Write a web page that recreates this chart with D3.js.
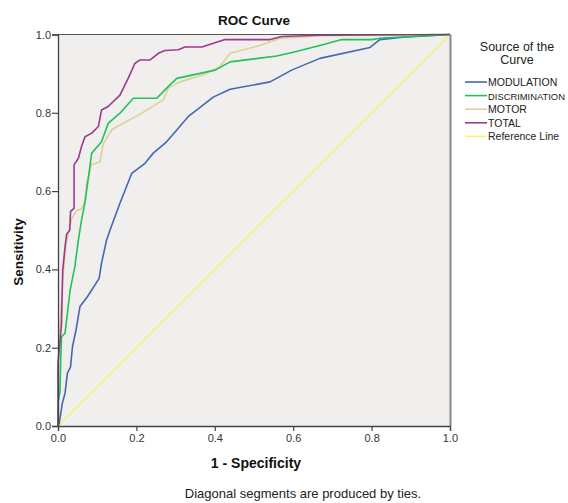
<!DOCTYPE html>
<html>
<head>
<meta charset="utf-8">
<script src="https://cdn.jsdelivr.net/npm/d3@7"></script>
<style>
  body { margin: 0; background: #fff; overflow: hidden; }
  text { font-family: "Liberation Sans", Arial, sans-serif; }
</style>
</head>
<body>
<script>
// series names, in legend order
var series_names = ["MODULATION", "DISCRIMINATION", "MOTOR", "TOTAL", "Reference Line"];
var series_colors = ["#4567b2", "#22c25a", "#dbd197", "#9b3a8c", "#f6f36c"];

// 1 - specificity / sensitivity pairs
var modulation_fpr = [0, 0.003, 0.011, 0.018, 0.024, 0.032, 0.037, 0.046, 0.056, 0.075, 0.105, 0.111, 0.124, 0.133, 0.158, 0.188, 0.222, 0.243, 0.277, 0.303, 0.332, 0.396, 0.439, 0.541, 0.596, 0.668, 0.796, 0.821, 0.880, 1.0];
var modulation_tpr = [0, 0.007, 0.058, 0.084, 0.135, 0.151, 0.203, 0.245, 0.305, 0.330, 0.377, 0.416, 0.475, 0.501, 0.569, 0.645, 0.671, 0.697, 0.726, 0.756, 0.790, 0.840, 0.860, 0.879, 0.909, 0.939, 0.967, 0.987, 0.993, 1.0];

var discrimination_fpr = [0, 0, 0.005, 0.007, 0.009, 0.018, 0.026, 0.031, 0.043, 0.052, 0.060, 0.069, 0.086, 0.111, 0.128, 0.158, 0.192, 0.252, 0.281, 0.303, 0.401, 0.439, 0.558, 0.605, 0.668, 0.724, 0.800, 0.826, 0.966, 1.0];
var discrimination_tpr = [0, 0.06, 0.088, 0.169, 0.228, 0.237, 0.305, 0.347, 0.407, 0.475, 0.526, 0.572, 0.697, 0.726, 0.773, 0.799, 0.837, 0.837, 0.867, 0.888, 0.909, 0.930, 0.945, 0.956, 0.972, 0.987, 0.987, 0.991, 0.998, 1.0];

var motor_fpr = [0, 0, 0.005, 0.007, 0.012, 0.018, 0.022, 0.026, 0.035, 0.048, 0.060, 0.069, 0.073, 0.086, 0.107, 0.116, 0.137, 0.158, 0.205, 0.269, 0.281, 0.311, 0.371, 0.413, 0.439, 0.515, 0.566, 0.668, 1.0];
var motor_tpr = [0, 0.15, 0.25, 0.288, 0.373, 0.440, 0.470, 0.490, 0.530, 0.550, 0.555, 0.575, 0.620, 0.667, 0.675, 0.722, 0.756, 0.769, 0.794, 0.833, 0.863, 0.879, 0.897, 0.918, 0.952, 0.972, 0.990, 0.997, 1.0];

var total_fpr = [0, 0, 0.007, 0.009, 0.012, 0.018, 0.022, 0.030, 0.032, 0.041, 0.041, 0.052, 0.060, 0.069, 0.086, 0.103, 0.111, 0.128, 0.158, 0.179, 0.196, 0.209, 0.235, 0.256, 0.273, 0.307, 0.324, 0.367, 0.426, 0.541, 0.571, 0.668, 1.0];
var total_tpr = [0, 0.16, 0.237, 0.262, 0.398, 0.458, 0.490, 0.500, 0.548, 0.556, 0.667, 0.684, 0.714, 0.739, 0.748, 0.765, 0.807, 0.816, 0.845, 0.888, 0.926, 0.935, 0.935, 0.952, 0.959, 0.961, 0.968, 0.968, 0.987, 0.987, 0.995, 0.998, 1.0];

var reference_fpr = [0, 1];
var reference_tpr = [0, 1];

var tick_values = [0, 0.2, 0.4, 0.6, 0.8, 1.0];

var width = 568, height = 503;
var plot = {left: 58, right: 450, top: 34.5, bottom: 426};

var svg = d3.select("body").append("svg").attr("width", width).attr("height", height);

var x = d3.scaleLinear().domain([0, 1]).range([plot.left, plot.right]);
var y = d3.scaleLinear().domain([0, 1]).range([plot.bottom, plot.top]);

// plot background
svg.append("rect")
    .attr("x", plot.left).attr("y", plot.top)
    .attr("width", plot.right - plot.left).attr("height", plot.bottom - plot.top)
    .style("fill", "#f0efed");

function pairs(xs, ys){
    return xs.map(function(v, i){ return [v, ys[i]]; });
}

var line = d3.line().x(function(d){ return x(d[0]); }).y(function(d){ return y(d[1]); });

var curves = [
    {name: "Reference Line", pts: pairs(reference_fpr, reference_tpr)},
    {name: "MODULATION", pts: pairs(modulation_fpr, modulation_tpr)},
    {name: "MOTOR", pts: pairs(motor_fpr, motor_tpr)},
    {name: "DISCRIMINATION", pts: pairs(discrimination_fpr, discrimination_tpr)},
    {name: "TOTAL", pts: pairs(total_fpr, total_tpr)}
];

svg.selectAll("path.curve")
    .data(curves)
    .enter()
    .append("path")
    .attr("class", "curve")
    .attr("d", function(d){ return line(d.pts); })
    .style("fill", "none")
    .style("stroke", function(d){ return series_colors[series_names.indexOf(d.name)]; })
    .style("stroke-width", function(d){ return d.name == "Reference Line" ? 1.4 : 1.6; })
    .style("stroke-linejoin", "round");

// frame on top and right
svg.append("line")
    .attr("x1", plot.left).attr("x2", plot.right)
    .attr("y1", plot.top).attr("y2", plot.top)
    .style("stroke", "#555").style("stroke-width", 1.2);
svg.append("line")
    .attr("x1", plot.right + 0.5).attr("x2", plot.right + 0.5)
    .attr("y1", plot.top).attr("y2", plot.bottom)
    .style("stroke", "#888").style("stroke-width", 2);

// axes
var xAxis = svg.append("g")
    .attr("transform", "translate(0," + plot.bottom + ")")
    .call(d3.axisBottom(x).tickValues(tick_values).tickFormat(d3.format(".1f")).tickSize(5).tickPadding(3));
var yAxis = svg.append("g")
    .attr("transform", "translate(" + plot.left + ",0)")
    .call(d3.axisLeft(y).tickValues(tick_values).tickFormat(d3.format(".1f")).tickSize(6).tickPadding(1));

[xAxis, yAxis].forEach(function(g){
    g.select(".domain").style("stroke", "#444").style("stroke-width", 1.3);
    g.selectAll(".tick line").style("stroke", "#444").style("stroke-width", 1.2);
    g.selectAll(".tick text")
        .style("font-family", "'Liberation Sans', Arial, sans-serif")
        .style("font-size", "11px")
        .style("fill", "#333");
});

// titles
svg.append("text")
    .attr("x", (plot.left + plot.right) / 2).attr("y", 25)
    .attr("text-anchor", "middle")
    .style("font-size", "13.5px").style("font-weight", "bold").style("fill", "#111")
    .text("ROC Curve");

svg.append("text")
    .attr("x", 256).attr("y", 468)
    .attr("text-anchor", "middle")
    .style("font-size", "14px").style("font-weight", "bold").style("fill", "#111")
    .text("1 - Specificity");

svg.append("text")
    .attr("transform", "translate(23,252) rotate(-90)")
    .attr("text-anchor", "middle")
    .style("font-size", "13.5px").style("font-weight", "bold").style("fill", "#111")
    .text("Sensitivity");

svg.append("text")
    .attr("x", 303).attr("y", 498)
    .attr("text-anchor", "middle")
    .style("font-size", "13px").style("fill", "#222")
    .text("Diagonal segments are produced by ties.");

// legend
var legend = svg.append("g");
var legend_title = legend.append("text")
    .attr("text-anchor", "middle")
    .style("font-size", "12.5px").style("fill", "#222");
legend_title.append("tspan").attr("x", 517).attr("y", 51).text("Source of the");
legend_title.append("tspan").attr("x", 517).attr("y", 64).text("Curve");

var items = legend.selectAll("g.item")
    .data(series_names)
    .enter()
    .append("g")
    .attr("class", "item")
    .attr("transform", function(d, i){ return "translate(0," + (82 + i * 13.6) + ")"; });
items.append("line")
    .attr("x1", 465).attr("x2", 487)
    .attr("y1", 0).attr("y2", 0)
    .style("stroke", function(d, i){ return series_colors[i]; })
    .style("stroke-width", 1.6);
items.append("text")
    .attr("x", 488).attr("y", 4)
    .style("font-size", "10.5px").style("fill", "#222")
    .text(function(d){ return d; })
    .each(function(){
        // shrink the long label so it stays inside the picture
        var w = this.getComputedTextLength();
        if (488 + w > width - 3) {
            var fs = 10.5 * (width - 3 - 488) / w;
            d3.select(this).style("font-size", fs.toFixed(2) + "px");
        }
    });
</script>
</body>
</html>
